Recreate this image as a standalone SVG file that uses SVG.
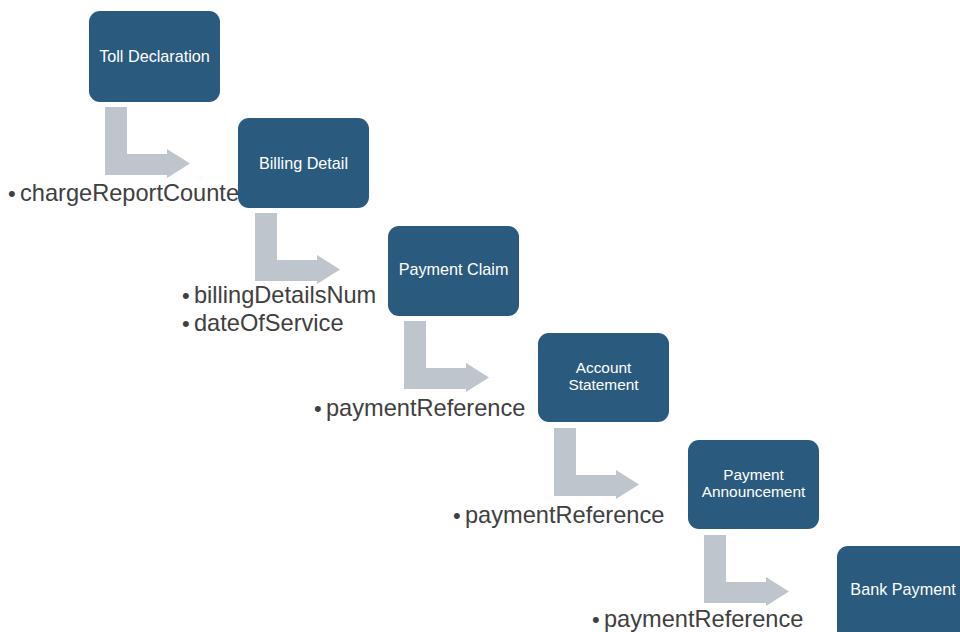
<svg xmlns="http://www.w3.org/2000/svg" width="960" height="632" viewBox="0 0 960 632">
  <defs>
    <style>
      .box { fill: #2a5a7e; }
      .box-label { font-family: "Liberation Sans", Arial, sans-serif; font-size: 16.2px; fill: #ffffff; text-anchor: middle; }
      .box-label.two { font-size: 15.4px; }
      .flow { fill: #bfc5cd; }
      .note { font-family: "Liberation Sans", Arial, sans-serif; font-size: 23.6px; fill: #404040; }
      .dot { font-size: 22px; }
    </style>
    <!-- bent arrow: down, then right; origin at top-left of the vertical bar -->
    <path id="bend" class="flow" d="M0,0 H22 V47 H62 V42 L85,56.5 L62,71 V68 H0 Z"/>
  </defs>
  <rect width="960" height="632" fill="#ffffff"/>

  <!-- attribute notes (drawn beneath the boxes) -->
  <g id="notes">
    <text class="note" y="201"><tspan class="dot" x="8">•</tspan><tspan x="20">chargeReportCounte</tspan></text>
    <text class="note" y="303"><tspan class="dot" x="182">•</tspan><tspan x="194">billingDetailsNum</tspan></text>
    <text class="note" y="331"><tspan class="dot" x="182">•</tspan><tspan x="194">dateOfService</tspan></text>
    <text class="note" y="416"><tspan class="dot" x="314">•</tspan><tspan x="326">paymentReference</tspan></text>
    <text class="note" y="523"><tspan class="dot" x="453">•</tspan><tspan x="465">paymentReference</tspan></text>
    <text class="note" y="627"><tspan class="dot" x="592">•</tspan><tspan x="604">paymentReference</tspan></text>
  </g>

  <!-- connectors -->
  <g id="connectors">
    <use href="#bend" x="105" y="107"/>
    <use href="#bend" x="255" y="213"/>
    <use href="#bend" x="404" y="321"/>
    <use href="#bend" x="554" y="428"/>
    <use href="#bend" x="704" y="535"/>
  </g>

  <g id="toll-declaration">
    <rect class="box" x="89" y="11" width="131" height="91" rx="11"/>
    <text class="box-label" x="154.5" y="62">Toll Declaration</text>
  </g>
  <g id="billing-detail">
    <rect class="box" x="238" y="118" width="131" height="90" rx="11"/>
    <text class="box-label" x="303.5" y="169">Billing Detail</text>
  </g>
  <g id="payment-claim">
    <rect class="box" x="388" y="226" width="131" height="90" rx="11"/>
    <text class="box-label" x="453.5" y="275">Payment Claim</text>
  </g>
  <g id="account-statement">
    <rect class="box" x="538" y="333" width="131" height="89" rx="11"/>
    <text class="box-label two" x="603.5" y="373">Account</text>
    <text class="box-label two" x="603.5" y="389.5">Statement</text>
  </g>
  <g id="payment-announcement">
    <rect class="box" x="688" y="440" width="131" height="89" rx="11"/>
    <text class="box-label two" x="753.5" y="480">Payment</text>
    <text class="box-label two" x="753.5" y="496.5">Announcement</text>
  </g>
  <g id="bank-payment">
    <rect class="box" x="837" y="546" width="140" height="95" rx="11"/>
    <text class="box-label" x="903" y="595">Bank Payment</text>
  </g>
</svg>
